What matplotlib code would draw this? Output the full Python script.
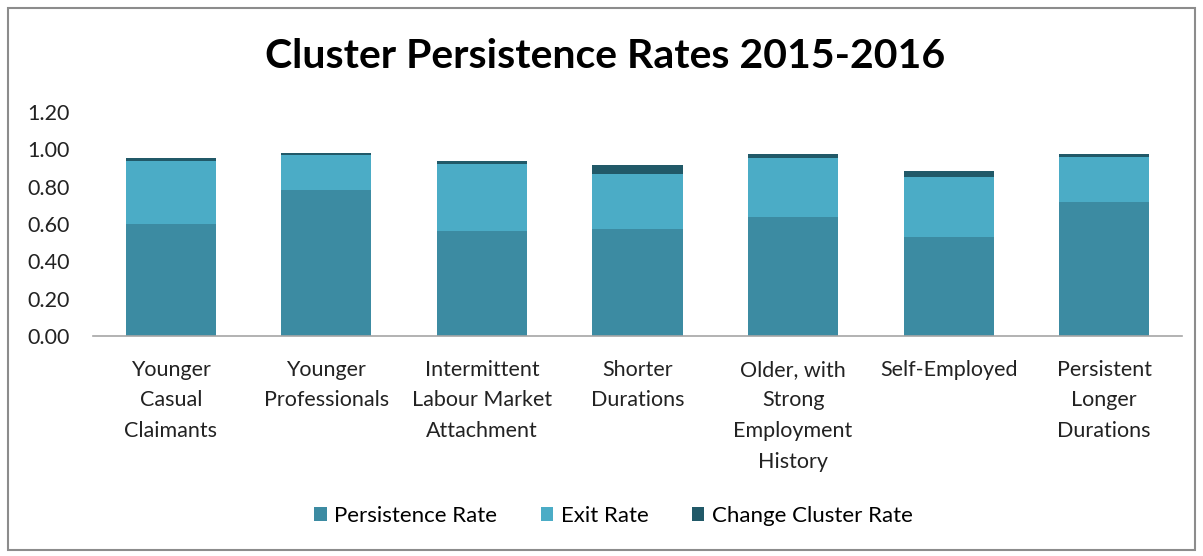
import matplotlib.pyplot as plt
import numpy as np
from matplotlib.patches import Rectangle

# cluster persistence, 2015-2016
clusters = ['Younger\nCasual\nClaimants', 'Younger\nProfessionals',
            'Intermittent\nLabour Market\nAttachment', 'Shorter\nDurations',
            'Older, with\nStrong\nEmployment\nHistory', 'Self-Employed',
            'Persistent\nLonger\nDurations']
persistence = [0.60, 0.78, 0.56, 0.575, 0.64, 0.53, 0.72]
exit_rate = [0.34, 0.19, 0.36, 0.295, 0.315, 0.32, 0.24]
change_cluster = [0.015, 0.01, 0.015, 0.045, 0.02, 0.035, 0.013]
series_names = ['Persistence Rate', 'Exit Rate', 'Change Cluster Rate']
yticks = [0.0, 0.2, 0.4, 0.6, 0.8, 1.0, 1.2]

colors = ['#3C8BA2', '#4BACC6', '#215968']
plt.rcParams['font.family'] = ['Lato', 'DejaVu Sans']

fig = plt.figure(figsize=(12.03, 5.56), dpi=100)
ax = fig.add_axes([93 / 1203, 1 - 336 / 556, (1182 - 93) / 1203, (336 - 112) / 556])

x = np.arange(len(clusters))
w = 0.58
persistence = np.array(persistence)
exit_rate = np.array(exit_rate)
change_cluster = np.array(change_cluster)
b1 = ax.bar(x, persistence, w, color=colors[0], label=series_names[0])
b2 = ax.bar(x, exit_rate, w, bottom=persistence, color=colors[1], label=series_names[1])
b3 = ax.bar(x, change_cluster, w, bottom=persistence + exit_rate, color=colors[2],
            label=series_names[2])

ax.set_xlim(-0.5, len(clusters) - 0.5)
ax.set_ylim(0, 1.2)
ax.set_yticks(yticks)
ax.set_yticklabels([f'{v:.2f}' for v in yticks], fontsize=15.5, color='#222222')
ax.set_xticks(x)
ax.set_xticklabels(clusters, fontsize=15.5, color='#222222', linespacing=1.68, va='top')
ax.tick_params(axis='both', length=0)
ax.tick_params(axis='y', pad=16.5)
ax.tick_params(axis='x', pad=17)
for s in ['top', 'right', 'left']:
    ax.spines[s].set_visible(False)
ax.spines['bottom'].set_color('#A6A6A6')
ax.spines['bottom'].set_linewidth(1.2)

fig.text(0.503, 1 - 57 / 556, 'Cluster Persistence Rates 2015-2016', ha='center', va='center',
         fontsize=29.5, fontweight='bold', color='black')

fig.legend(handles=[b1, b2, b3], loc='center', bbox_to_anchor=(0.51, 1 - 516 / 556), ncol=3,
           frameon=False, fontsize=16, handlelength=0.55, handleheight=0.55,
           handletextpad=0.35, columnspacing=1.95)

# outer chart border
fig.patches.append(Rectangle((8 / 1203, 1 - 550 / 556), (1195 - 8) / 1203, (550 - 8) / 556,
                             transform=fig.transFigure, fill=False, edgecolor='#8C8C8C',
                             linewidth=1.5))

fig.savefig('out.png', dpi=100)
